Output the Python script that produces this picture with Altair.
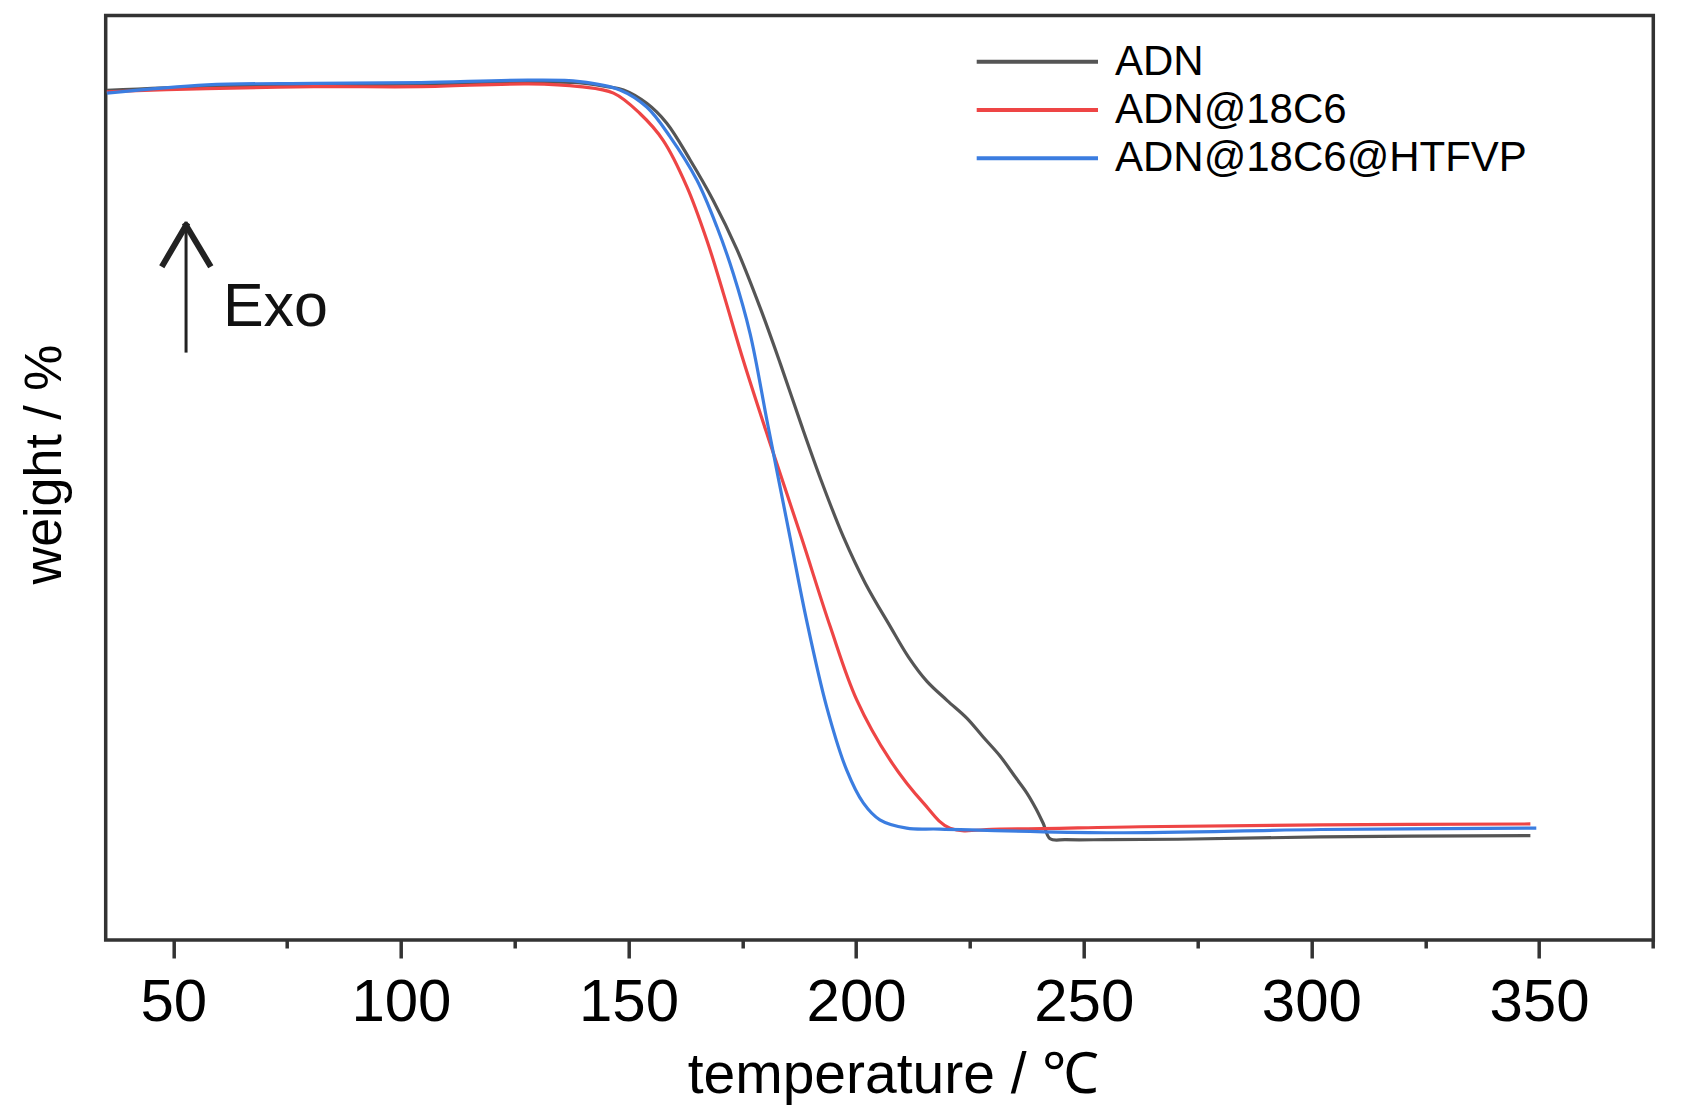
import altair as alt
import pandas as pd

# ---------------- data ----------------
SERIES = ["ADN", "ADN@18C6", "ADN@18C6@HTFVP"]
COLORS = ["#555555", "#ee4545", "#3b7de0"]

ADN_T = [35.4, 57.4, 80.9, 104.4, 128.1, 138.2, 145.2, 148.9, 154.0, 158.4, 163.5, 168.6,
         173.8, 178.9, 183.3, 187.9, 192.4, 197.2, 202.0, 207.5, 211.5, 215.5, 220.0, 224.3,
         228.0, 231.6, 235.0, 237.5, 239.5, 241.1, 242.6, 246.0, 255.0, 270.7, 302.1, 348.1]
ADN_W = [91.9, 92.3, 92.45, 92.6, 92.75, 92.75, 92.3, 91.95, 90.5, 88.35, 84.4, 80.0,
         74.7, 68.4, 62.4, 55.8, 49.6, 43.6, 38.6, 33.9, 30.6, 28.0, 25.9, 24.0,
         21.9, 19.9, 17.6, 15.9, 14.2, 12.6, 10.95, 10.85, 10.85, 10.9, 11.15, 11.3]

C6_T = [35.4, 57.4, 80.9, 104.4, 128.1, 139.3, 146.7, 152.5, 157.6, 162.8, 167.2, 170.8,
        175.2, 180.7, 188.0, 194.3, 200.1, 207.4, 214.8, 220.6, 231.6, 262.4, 302.1, 348.1]
C6_W = [91.75, 92.1, 92.3, 92.3, 92.6, 92.3, 91.6, 89.4, 86.5, 81.5, 75.7, 70.0,
        62.7, 54.3, 43.5, 33.9, 26.0, 19.5, 14.8, 12.1, 12.0, 12.25, 12.45, 12.55]

HT_T = [35.4, 57.4, 80.9, 104.4, 128.1, 139.3, 148.1, 154.0, 159.1, 165.0, 169.4, 173.0,
        176.7, 180.6, 185.5, 189.1, 193.5, 197.9, 201.6, 205.2, 211.1, 218.4, 255.1, 302.1, 349.4]
HT_W = [91.6, 92.5, 92.65, 92.75, 93.0, 92.85, 91.95, 90.1, 86.9, 82.2, 77.15, 72.1,
        65.6, 55.7, 43.5, 34.6, 25.25, 18.4, 14.8, 13.0, 12.1, 12.0, 11.6, 11.95, 12.1]

X_TICKS = [50, 100, 150, 200, 250, 300, 350]
X_MINOR = [75, 125, 175, 225, 275, 325, 375]
X_DOMAIN = [35.15, 375.1]
Y_DOMAIN = [0, 100]

# "Exo" arrow annotation (in data units)
ARROW_X0 = [52.8, 47.8, 57.9]
ARROW_Y0 = [63.7, 73.1, 73.1]
ARROW_X1 = [52.8, 52.8, 52.8]
ARROW_Y1 = [77.3, 77.3, 77.3]
ARROW_SW = [3, 6, 6]
EXO_LABEL = "Exo"
EXO_T = 60.9
EXO_W = 66.4

FONT = "'Liberation Sans', Arial, sans-serif"

# ---------------- tables ----------------
rows = []
for name, ts, ws in zip(SERIES, [ADN_T, C6_T, HT_T], [ADN_W, C6_W, HT_W]):
    for i, (t, w) in enumerate(zip(ts, ws)):
        rows.append({"series": name, "T": t, "W": w, "order": i})
df = pd.DataFrame(rows)

arrow_df = pd.DataFrame({"x0": ARROW_X0, "y0": ARROW_Y0, "x1": ARROW_X1,
                         "y1": ARROW_Y1, "sw": ARROW_SW})
exo_df = pd.DataFrame({"T": [EXO_T], "W": [EXO_W], "label": [EXO_LABEL]})
legend_df = pd.DataFrame({"series": SERIES, "row": list(range(len(SERIES)))})
minor_df = pd.DataFrame({"T": X_MINOR})

xscale = alt.Scale(domain=X_DOMAIN, nice=False, zero=False)
yscale = alt.Scale(domain=Y_DOMAIN, nice=False, zero=False)
color = alt.Color("series:N", scale=alt.Scale(domain=SERIES, range=COLORS), legend=None)

lines = alt.Chart(df).mark_line(strokeWidth=3.2, interpolate="catmull-rom").encode(
    x=alt.X("T:Q", scale=xscale, axis=alt.Axis(
        values=X_TICKS, format="d", labelFont=FONT, labelFontSize=60, labelColor="black",
        labelPadding=16, labelFlush=False, labelOverlap=False,
        tickSize=18, tickWidth=3.5, tickColor="#333333", domain=False, grid=False,
        title="temperature / ℃", titleFont=FONT, titleFontSize=57,
        titleFontWeight="normal", titleColor="black", titleX=787.3, titleY=153,
        titleBaseline="alphabetic", titleAlign="center")),
    y=alt.Y("W:Q", scale=yscale, axis=alt.Axis(
        labels=False, ticks=False, domain=False, grid=False,
        title="weight / %", titleFont=FONT, titleFontSize=52, titleFontWeight="normal",
        titleColor="black", titleX=-45, titleY=448.5, titleAngle=270,
        titleAlign="center", titleBaseline="alphabetic")),
    color=color,
    order="order:Q",
)

minor = alt.Chart(minor_df).mark_point(opacity=0).encode(
    x=alt.X("T:Q", scale=xscale, axis=alt.Axis(
        values=X_MINOR, labels=False, tickSize=8, tickWidth=3.5, tickColor="#333333",
        domain=False, grid=False, title=None, orient="bottom")),
)

arrow = alt.Chart(arrow_df).mark_rule(color="#222222", strokeCap="square").encode(
    x=alt.X("x0:Q", scale=xscale, axis=None),
    x2="x1:Q",
    y=alt.Y("y0:Q", scale=yscale, axis=None),
    y2="y1:Q",
    strokeWidth=alt.StrokeWidth("sw:Q", scale=None),
)

exo = alt.Chart(exo_df).mark_text(
    align="left", baseline="alphabetic", font=FONT, fontSize=61, color="#111111"
).encode(
    x=alt.X("T:Q", scale=xscale, axis=None),
    y=alt.Y("W:Q", scale=yscale, axis=None),
    text="label:N",
)

row_scale = alt.Scale(domain=[0, len(SERIES) - 1], range=[46.2, 142.8], nice=False, zero=False)
legend_lines = alt.Chart(legend_df).mark_rule(strokeWidth=4).encode(
    x=alt.value(871), x2=alt.value(992.3),
    y=alt.Y("row:Q", scale=row_scale, axis=None),
    color=color,
)
legend_text = alt.Chart(legend_df).mark_text(
    align="left", baseline="middle", font=FONT, fontSize=42, color="black"
).encode(
    x=alt.value(1009.3),
    y=alt.Y("row:Q", scale=row_scale, axis=None),
    text="series:N",
)

chart = alt.layer(lines, minor, arrow, exo, legend_lines, legend_text).resolve_scale(
    y="independent"
).resolve_axis(
    x="independent", y="independent"
).properties(
    width=1547.6, height=924.5,
    padding={"left": 97.7, "top": 7.5, "right": 40, "bottom": 167},
    autosize=alt.AutoSizeParams(type="none"),
).configure_view(
    stroke="#333333", strokeWidth=3.5
)

chart.save("out.html", embed_options={"renderer": "svg", "actions": False})
